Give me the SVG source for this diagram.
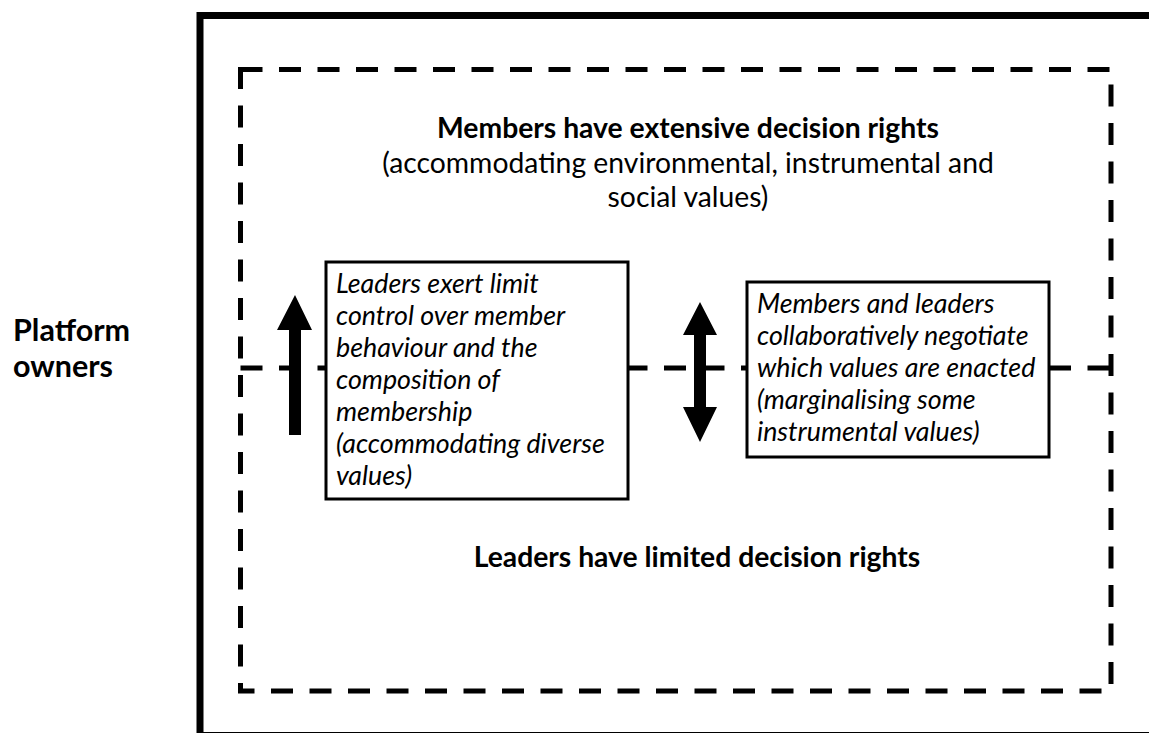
<svg xmlns="http://www.w3.org/2000/svg" width="1149" height="733" viewBox="0 0 1149 733">
<style>
.t{font-family:Lato,"Open Sans","Liberation Sans",sans-serif;fill:#000}
.b{font-weight:bold;font-size:28.3px}
.p{font-weight:bold;font-size:30.5px}
.n{font-size:28.3px}
.i{font-style:italic;font-size:26.8px}
.dash{fill:none;stroke:#000;stroke-width:5;stroke-dasharray:22 16.5}
.box{fill:#fff;stroke:#000;stroke-width:3}
.arr{fill:#000}
</style>
<rect width="1149" height="733" fill="#fff"/>
<g id="platform-frame">
<rect x="200" y="15.5" width="1000" height="720" fill="none" stroke="#000" stroke-width="7"/>
</g>
<g id="platform-owners">
<text class="t p" x="13" y="341">Platform</text>
<text class="t p" x="13" y="377">owners</text>
</g>
<g id="community-frame">
<path class="dash" d="M240.5 69.5 H1111 V691 H240.5 Z"/>
</g>
<g id="connectors">
<line class="dash" x1="240.5" y1="368" x2="1111" y2="368"/>
</g>
<g id="members-label">
<text class="t b" x="688" y="138" text-anchor="middle">Members have extensive decision rights</text>
<text class="t n" x="688" y="173" text-anchor="middle">(accommodating environmental, instrumental and</text>
<text class="t n" x="688" y="207" text-anchor="middle">social values)</text>
</g>
<g id="leaders-label">
<text class="t b" x="697" y="567" text-anchor="middle">Leaders have limited decision rights</text>
</g>
<g id="up-arrow">
<polygon class="arr" points="295,295 312,330 301,330 301,435 289,435 289,330 277,330"/>
</g>
<g id="left-box">
<rect class="box" x="326" y="262" width="302" height="237"/>
<text class="t i" x="336" y="293">Leaders exert limit</text>
<text class="t i" x="336" y="325">control over member</text>
<text class="t i" x="336" y="357">behaviour and the</text>
<text class="t i" x="336" y="389">composition of</text>
<text class="t i" x="336" y="421">membership</text>
<text class="t i" x="336" y="453">(accommodating diverse</text>
<text class="t i" x="336" y="485">values)</text>
</g>
<g id="double-arrow">
<polygon class="arr" points="700,302 717,335 706,335 706,407 717,407 700,442 683,407 694,407 694,335 683,335"/>
</g>
<g id="right-box">
<rect class="box" x="747" y="282" width="302" height="175"/>
<text class="t i" x="757" y="313">Members and leaders</text>
<text class="t i" x="757" y="345">collaboratively negotiate</text>
<text class="t i" x="757" y="377">which values are enacted</text>
<text class="t i" x="757" y="409">(marginalising some</text>
<text class="t i" x="757" y="441">instrumental values)</text>
</g>
</svg>
